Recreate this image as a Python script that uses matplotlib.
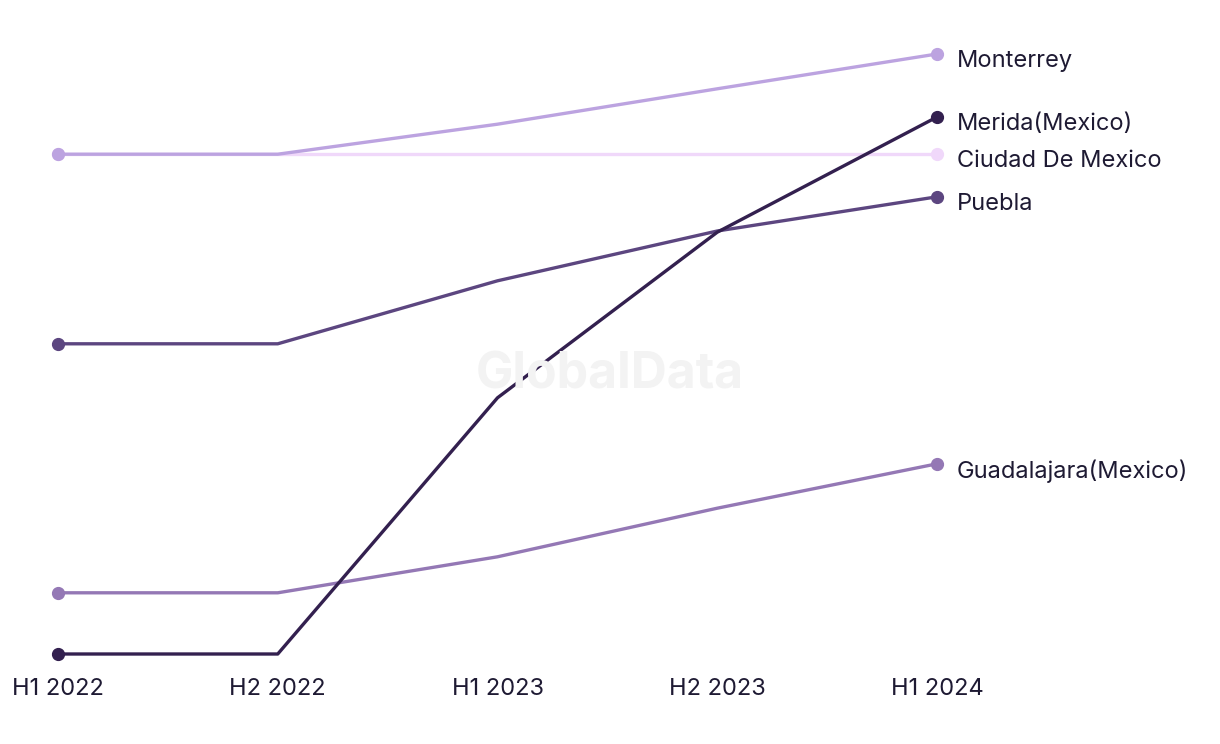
import matplotlib
matplotlib.use("Agg")
import matplotlib.pyplot as plt
from matplotlib.transforms import offset_copy

periods = ["H1 2022", "H2 2022", "H1 2023", "H2 2023", "H1 2024"]

cities = ["Ciudad De Mexico", "Monterrey", "Guadalajara(Mexico)", "Puebla", "Merida(Mexico)"]
ciudad = [83.3, 83.3, 83.3, 83.3, 83.3]
monterrey = [83.3, 83.3, 88.3, 94.2, 100.0]
guadalajara = [10.2, 10.2, 16.2, 24.3, 31.7]
puebla = [51.7, 51.7, 62.2, 70.5, 76.2]
merida = [0.0, 0.0, 42.7, 70.3, 89.5]
series = [ciudad, monterrey, guadalajara, puebla, merida]
colors = ["#f0d8fa", "#bca3e0", "#9478b5", "#5c4680", "#33204f"]

plt.rcParams['font.family'] = ['Inter', 'DejaVu Sans']
text_color = "#1e1a33"

fig = plt.figure(figsize=(12.2, 7.44), dpi=100)
ax = fig.add_axes([58 / 1220, (744 - 654) / 744, (937 - 58) / 1220, 600 / 744])
ax.set_xlim(0, len(periods) - 1)
ax.set_ylim(0, 100)

fig.text(610 / 1220, 1 - 375 / 744, "GlobalData", ha="center", va="center",
         fontsize=36, fontweight="bold", color="#f3f3f3", zorder=0)

x = list(range(len(periods)))
for name, vals, c in zip(cities, series, colors):
    ax.plot(x, vals, color=c, lw=2.4, marker="o", markersize=8.5,
            markevery=[0, len(x) - 1], clip_on=False, solid_capstyle="round")
    tr = offset_copy(ax.transData, fig=fig, x=20, y=-7, units="dots")
    ax.text(x[-1], vals[-1], name, transform=tr, ha="left", va="center",
            fontsize=17, color=text_color)

ax.set_xticks(x)
ax.set_xticklabels(periods, fontsize=17, color=text_color)
ax.tick_params(axis="x", length=0, pad=17)
ax.set_yticks([])
for s in ax.spines.values():
    s.set_visible(False)
ax.patch.set_alpha(0)

fig.savefig("out.png", dpi=100)
